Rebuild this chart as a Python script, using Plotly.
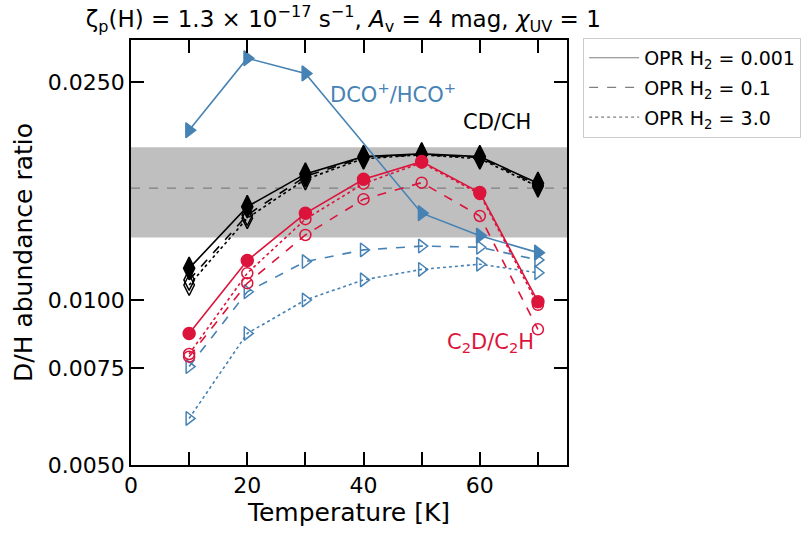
import numpy as np
import plotly.graph_objects as go

# ---- data ----
temps = [10, 20, 30, 40, 50, 60, 70]
temps_dco_solid = [10, 20, 30, 50, 60, 70]

dco_opr0001 = [0.0204, 0.0276, 0.0259, 0.0144, 0.0131, 0.0122]
dco_opr01 = [0.00756, 0.01035, 0.01175, 0.01234, 0.01254, 0.01248, 0.01183]
dco_opr3 = [0.00608, 0.00869, 0.0100, 0.01088, 0.01137, 0.01162, 0.01121]

c2d_opr0001 = [0.00869, 0.0118, 0.01439, 0.0166, 0.01788, 0.0157, 0.00993]
c2d_opr01 = [0.00788, 0.01073, 0.01314, 0.01527, 0.01637, 0.01423, 0.00884]
c2d_opr3 = [0.00797, 0.01119, 0.01404, 0.0163, 0.0178, 0.0156, 0.0098]

cd_opr0001 = [0.01142, 0.0148, 0.01698, 0.01826, 0.01847, 0.01826, 0.01633]
cd_opr01 = [0.01088, 0.01429, 0.0168, 0.0182, 0.0184, 0.0182, 0.0162]
cd_opr3 = [0.01065, 0.0141, 0.0166, 0.0181, 0.0184, 0.0181, 0.0161]

obs_low, obs_mean, obs_high = 0.013, 0.016, 0.019
x_range = [0, 75]
y_range = [0.005, 0.0298]

ytick_vals = [0.005, 0.0075, 0.01, 0.025]
ytick_text = ["0.0050", "0.0075", "0.0100", "0.0250"]
xtick_vals = [0, 10, 20, 30, 40, 50, 60, 70]
xtick_text = ["0", "", "20", "", "40", "", "60", ""]

legend_labels = ["OPR H<sub>2</sub> = 0.001", "OPR H<sub>2</sub> = 0.1", "OPR H<sub>2</sub> = 3.0"]

BLUE = "#4682B4"
RED = "#DC143C"
BLACK = "#000000"
FONT = "DejaVu Sans"

fig = go.Figure()

# observed band
fig.add_trace(go.Scatter(
    x=[x_range[0], x_range[1], x_range[1], x_range[0], x_range[0]],
    y=[obs_low, obs_low, obs_high, obs_high, obs_low],
    fill="toself", fillcolor="#bfbfbf", line=dict(width=0),
    mode="lines", showlegend=False, hoverinfo="skip"))
fig.add_trace(go.Scatter(
    x=x_range, y=[obs_mean, obs_mean], mode="lines",
    line=dict(color="#808080", width=1.2, dash="dash"),
    showlegend=False, hoverinfo="skip"))


def add_series(x, y, color, dash, symbol, size):
    fig.add_trace(go.Scatter(
        x=x, y=y, mode="lines+markers",
        line=dict(color=color, width=1.6, dash=dash),
        marker=dict(symbol=symbol, size=size, color=color,
                    line=dict(color=color, width=1.5)),
        showlegend=False))


# CD/CH
add_series(temps, cd_opr3, BLACK, "dot", "diamond-tall-open", 15)
add_series(temps, cd_opr01, BLACK, "dash", "diamond-tall-open", 15)
add_series(temps, cd_opr0001, BLACK, "solid", "diamond-tall", 16)
# DCO+/HCO+
add_series(temps, dco_opr3, BLUE, "dot", "triangle-right-open", 12)
add_series(temps, dco_opr01, BLUE, "dash", "triangle-right-open", 12)
add_series(temps_dco_solid, dco_opr0001, BLUE, "solid", "triangle-right", 13)
# C2D/C2H
add_series(temps, c2d_opr3, RED, "dot", "circle-open", 11)
add_series(temps, c2d_opr01, RED, "dash", "circle-open", 11)
add_series(temps, c2d_opr0001, RED, "solid", "circle", 12)

# legend entries
for i, (lab, dash) in enumerate(zip(legend_labels, ["solid", "dash", "dot"])):
    fig.add_trace(go.Scatter(
        x=[None], y=[None], mode="lines", name=lab, legendgroup=f"g{i}",
        line=dict(color="#7f7f7f", width=1.2, dash=dash)))

# labels
fig.add_annotation(x=45.0, y=np.log10(0.0239), text="DCO<sup>+</sup>/HCO<sup>+</sup>",
                   showarrow=False, font=dict(color=BLUE, size=21, family=FONT))
fig.add_annotation(x=63.0, y=np.log10(0.0211), text="CD/CH",
                   showarrow=False, font=dict(color=BLACK, size=21, family=FONT))
fig.add_annotation(x=61.8, y=np.log10(0.00835), text="C<sub>2</sub>D/C<sub>2</sub>H",
                   showarrow=False, font=dict(color=RED, size=21, family=FONT))

fig.update_layout(
    width=811, height=533,
    margin=dict(l=131, r=244, t=40, b=68, autoexpand=False),
    plot_bgcolor="white", paper_bgcolor="white",
    font=dict(family=FONT, size=20, color="black"),
    title=dict(
        text="ζ<sub>p</sub>(H) = 1.3 × 10<sup>−17</sup> s<sup>−1</sup>, "
             "<i>A</i><sub>v</sub> = 4 mag, <i>χ</i><sub>UV</sub> = 1",
        x=0.487, xref="paper", xanchor="center",
        y=0.965, yref="container", yanchor="middle",
        font=dict(size=23, family=FONT)),
    legend=dict(
        x=1.037, y=1.005, xanchor="left", yanchor="top",
        bgcolor="white", bordercolor="#cccccc", borderwidth=1,
        font=dict(size=19, family=FONT), tracegroupgap=2, itemwidth=50),
    showlegend=True,
)

fig.update_xaxes(
    range=x_range, tickvals=xtick_vals, ticktext=xtick_text,
    ticks="inside", ticklen=13, tickwidth=1.5, tickcolor="black",
    showline=True, linewidth=1.8, linecolor="black", mirror="ticks",
    showgrid=False, zeroline=False, automargin=False,
    title=dict(text="Temperature [K]", font=dict(size=25, family=FONT), standoff=6),
    tickfont=dict(size=22, family=FONT))

fig.update_yaxes(
    type="log", range=[np.log10(y_range[0]), np.log10(y_range[1])],
    tickvals=ytick_vals, ticktext=ytick_text,
    ticks="inside", ticklen=13, tickwidth=1.5, tickcolor="black",
    showline=True, linewidth=1.8, linecolor="black", mirror="ticks",
    showgrid=False, zeroline=False, automargin=False,
    title=dict(text="D/H abundance ratio", font=dict(size=25, family=FONT), standoff=8),
    tickfont=dict(size=22, family=FONT))

fig.write_html("out.html")
